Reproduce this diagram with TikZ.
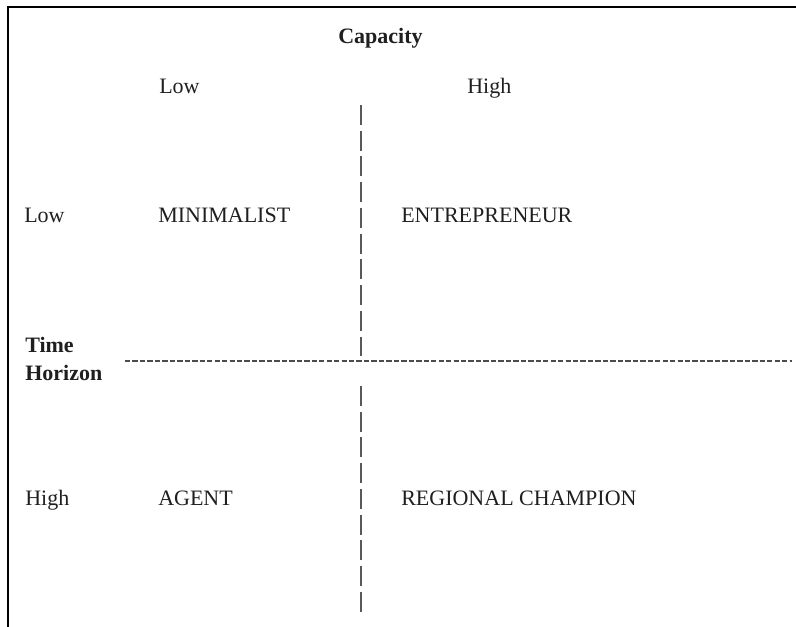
\documentclass[tikz,border=0pt]{standalone}
\usepackage{fontspec}
\setmainfont{Liberation Serif}
\begin{document}
\begin{tikzpicture}[x=0.75pt,y=-0.75pt,
  lbl/.style={anchor=base west,inner sep=0pt,text=black!88,font=\fontsize{16.5}{19}\selectfont},
  hdr/.style={lbl,font=\fontsize{16.5}{19}\selectfont\bfseries},
  frame/.style={line width=1.6pt,black},
  vsplit/.style={line width=0.8pt,black!65,dash pattern=on 15pt off 4.3pt},
  hsplit/.style={line width=1pt,black!70,dash pattern=on 4pt off 1.6pt}]
\useasboundingbox (0,0) rectangle (796,627);

% outer frame: top and left edges
\coordinate (ftl) at (8,7);
\coordinate (ftr) at (796,7);
\coordinate (fbl) at (8,627);
\draw[frame] (ftr) -- (ftl) -- (fbl);

% axis headings
\node[hdr] (cap) at (338,43.5) {Capacity};
\node[lbl] (caplow) at (159,94) {Low};
\node[lbl] (caphigh) at (467,94) {High};
\node[hdr] (time) at (25,352) {Time};
\node[hdr] (horizon) at (25,380) {Horizon};
\node[lbl] (thlow) at (24,223) {Low};
\node[lbl] (thhigh) at (25,505) {High};

% quadrant labels
\node[lbl] (q1) at (158,223) {MINIMALIST};
\node[lbl] (q2) at (401,223) {ENTREPRENEUR};
\node[lbl] (q3) at (158,505) {AGENT};
\node[lbl] (q4) at (401,505) {REGIONAL CHAMPION};

% dividers
\coordinate (vt1) at (361,105);
\coordinate (vb1) at (361,356);
\coordinate (vt2) at (361,386);
\coordinate (vb2) at (361,612);
\coordinate (hl) at (125,361);
\coordinate (hr) at (792,361);
\draw[vsplit] (vt1) -- (vb1);
\draw[vsplit] (vt2) -- (vb2);
\draw[hsplit] (hl) -- (hr);
\end{tikzpicture}
\end{document}
